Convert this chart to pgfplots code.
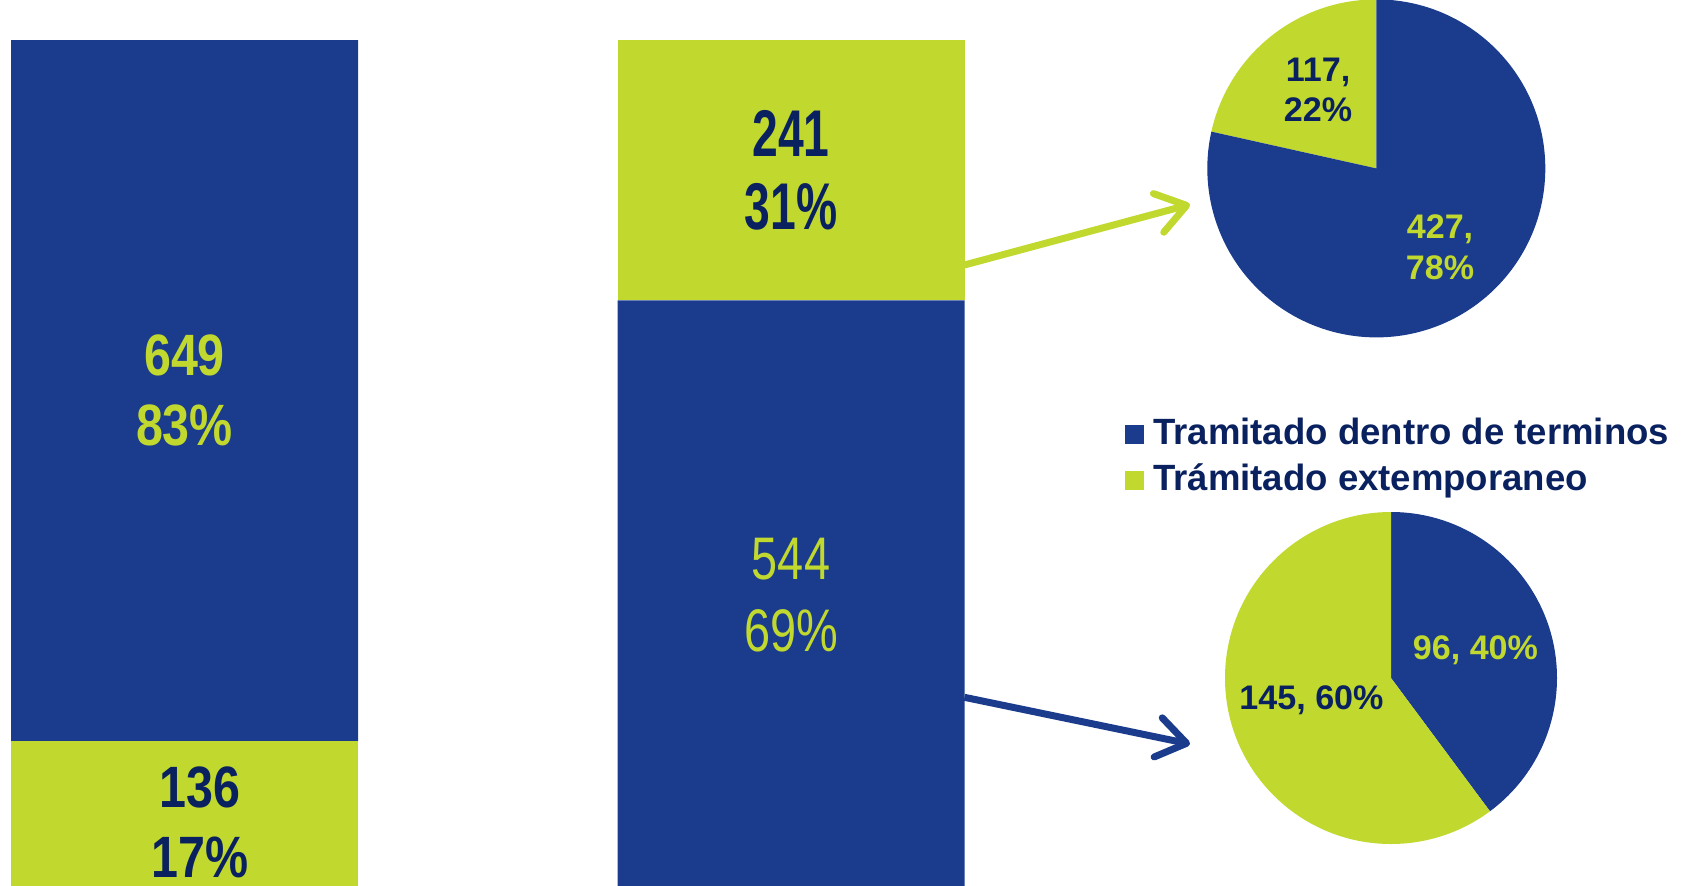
\documentclass[border=0pt]{standalone}
\usepackage{fontspec}
\setmainfont{Liberation Sans}
\newfontfamily\stA[FakeStretch=0.83]{Liberation Sans}
\newfontfamily\stB[FakeStretch=0.70]{Liberation Sans}
\newfontfamily\stC[FakeStretch=0.78]{Liberation Sans}
\usepackage{pgfplots}
\pgfplotsset{compat=1.18}
\usetikzlibrary{arrows.meta}
\definecolor{cblue}{RGB}{27,60,140}
\definecolor{cgreen}{RGB}{193,216,46}
\definecolor{cnavy}{RGB}{10,33,96}
\pgfplotsset{baraxis/.style={at={(0mm,-0.3mm)}, anchor=south west, scale only axis,
  width=168.2mm, height=84.8mm,
  xmin=-0.3042, xmax=2.469, ymin=0, ymax=785, hide axis, clip=false}}
\begin{document}
\begin{tikzpicture}[x=0.1mm,y=0.1mm]
\useasboundingbox (0,0) rectangle (1682,885);
% ---------------- stacked bars ----------------
\begin{axis}[baraxis, ybar stacked, bar width=0.5721]
\addplot[fill=cgreen, draw=none] coordinates {(0,136) (1,0)};
\addplot[fill=cblue, draw=none] coordinates {(0,649) (1,544)};
\addplot[fill=cgreen, draw=none] coordinates {(0,0) (1,241)};
\end{axis}
% labels of the bars (same axis frame, drawn on top)
\begin{axis}[baraxis]
\node[align=center, text=cgreen, font=\stA\bfseries\fontsize{16.6pt}{19.9pt}\selectfont] at (axis cs:0,460.5) {649\\83\%};
\node[align=center, text=cnavy, font=\stA\bfseries\fontsize{16.6pt}{19.9pt}\selectfont] at (axis cs:0.026,61) {136\\17\%};
\node[align=center, text=cnavy, font=\stB\bfseries\fontsize{18.8pt}{20.8pt}\selectfont] at (axis cs:1,664.5) {241\\31\%};
\node[align=center, text=cgreen, font=\stC\fontsize{17.1pt}{20.5pt}\selectfont] at (axis cs:1,271) {544\\69\%};
\end{axis}
% ---------------- top pie ----------------
\begin{axis}[at={(137.63mm,71.66mm)}, anchor=center, scale only axis,
  width=33.8mm, height=33.8mm, xmin=-1, xmax=1, ymin=-1, ymax=1,
  hide axis, clip=false]
\fill[cgreen] (axis cs:0,0) -- ++(90:16.9mm) arc[start angle=90, delta angle={117/544*360}, radius=16.9mm] -- cycle;
\fill[cblue] (axis cs:0,0) -- ++(90:16.9mm) arc[start angle=90, delta angle={-427/544*360}, radius=16.9mm] -- cycle;
\node[align=center, text=cnavy, font=\bfseries\fontsize{9.7pt}{11.6pt}\selectfont] at (axis cs:-0.345,0.464) {117,\\22\%};
\node[align=center, text=cgreen, font=\bfseries\fontsize{9.7pt}{11.6pt}\selectfont] at (axis cs:0.377,-0.465) {427,\\78\%};
\end{axis}
% ---------------- bottom pie ----------------
\begin{axis}[at={(139.1mm,20.7mm)}, anchor=center, scale only axis,
  width=33.2mm, height=33.2mm, xmin=-1, xmax=1, ymin=-1, ymax=1,
  hide axis, clip=false]
\fill[cblue] (axis cs:0,0) -- ++(90:16.6mm) arc[start angle=90, delta angle={-96/241*360}, radius=16.6mm] -- cycle;
\fill[cgreen] (axis cs:0,0) -- ++(90:16.6mm) arc[start angle=90, delta angle={145/241*360}, radius=16.6mm] -- cycle;
\node[text=cgreen, font=\bfseries\fontsize{9.7pt}{11.6pt}\selectfont] at (axis cs:0.509,0.168) {96, 40\%};
\node[text=cnavy, font=\bfseries\fontsize{9.7pt}{11.6pt}\selectfont] at (axis cs:-0.479,-0.135) {145, 60\%};
\end{axis}
% ---------------- legend ----------------
\begin{axis}[at={(112.4mm,42.75mm)}, anchor=west, scale only axis,
  width=1mm, height=1mm, xmin=0, xmax=1, ymin=0, ymax=1, hide axis,
  legend style={at={(0,0.5)}, anchor=west, draw=none, fill=none, inner sep=0pt,
    font=\bfseries\fontsize{10.4pt}{12pt}\selectfont, text=cnavy,
    nodes={inner sep=0.45mm, text height=2.75mm, text depth=0.75mm}, row sep=0.2mm,
    column sep=0.45mm},
  legend cell align=left,
  legend image code/.code={\fill[#1] (0mm,-0.95mm) rectangle (1.95mm,0.95mm);}]
\addlegendimage{fill=cblue, draw=none}
\addlegendentry{Tramitado dentro de terminos}
\addlegendimage{fill=cgreen, draw=none}
\addlegendentry{Trámitado extemporaneo}
\end{axis}
% ---------------- arrows ----------------
\draw[cgreen, line width=0.7mm, -{Straight Barb[length=2.9mm,width=4.0mm,round]}] (964.4,620) -- (1190,680.5);
\draw[cblue, line width=0.7mm, -{Straight Barb[length=2.9mm,width=4.0mm,round]}] (964.4,187.7) -- (1190,141);
\end{tikzpicture}
\end{document}
